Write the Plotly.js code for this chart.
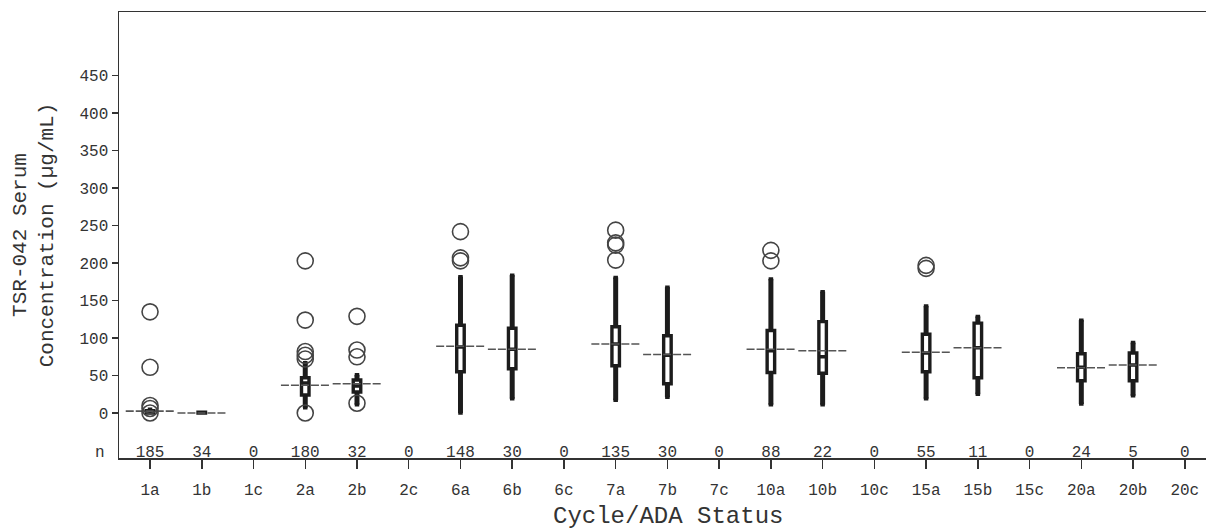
<!DOCTYPE html>
<html>
<head>
<meta charset="utf-8">
<script src="https://cdn.plot.ly/plotly-3.0.1.min.js"></script>
<style>html,body{margin:0;padding:0;background:#fff;}#chart{width:1206px;height:531px;}</style>
</head>
<body>
<div id="chart"></div>
<script>
// ---- data ----
const categories = ['1a','1b','1c','2a','2b','2c','6a','6b','6c','7a','7b','7c','10a','10b','10c','15a','15b','15c','20a','20b','20c'];
const nCounts = [185,34,0,180,32,0,148,30,0,135,30,0,88,22,0,55,11,0,24,5,0];

const boxCats  = ['1a','1b','2a','2b','6a','6b','7a','7b','10a','10b','15a','15b','20a','20b'];
const lowerVal = [0, 0, 7, 11, 0, 19, 17, 21, 11, 11, 19, 25, 12, 23];
const q1Val    = [0, 0, 24, 28, 55, 59, 63, 39, 54, 53, 55, 47, 43, 43];
const medVal   = [1, 0, 40, 36, 88, 85, 92, 77, 83, 75, 80, 87, 61, 64];
const q3Val    = [3, 1, 47, 44, 117, 113, 115, 103, 110, 122, 105, 120, 79, 80];
const upperVal = [5, 1, 67, 51, 182, 184, 181, 168, 179, 162, 143, 129, 124, 94];
const meanVal  = [2.5, 0, 37, 39, 89, 85, 92, 78, 85, 83, 81, 87, 60.5, 64];

const outlierCats = ['1a','1a','1a','1a','1a','2a','2a','2a','2a','2a','2a','2b','2b','2b','2b','6a','6a','6a','7a','7a','7a','7a','10a','10a','15a','15a'];
const outlierVals = [135, 61, 10, 6, 0, 203, 124, 82, 77, 72, 0, 129, 84, 75, 13, 242, 207, 203, 244, 227, 224, 204, 217, 203, 197, 193];

// ---- build traces ----
const pos = c => categories.indexOf(c);
const boxX = boxCats.map(pos);
const FONT = '"Liberation Mono", "DejaVu Sans Mono", monospace';

// thick whiskers
const wx = [], wy = [];
boxX.forEach((x, i) => {
  wx.push(x, x, null, x, x, null);
  wy.push(lowerVal[i], q1Val[i], null, q3Val[i], upperVal[i], null);
});

// mean lines
const mx = [], my = [];
boxX.forEach((x, i) => { mx.push(x - 0.47, x + 0.47, null); my.push(meanVal[i], meanVal[i], null); });

const traces = [
  {
    type: 'box', x: boxX, q1: q1Val, median: medVal, q3: q3Val,
    lowerfence: lowerVal, upperfence: upperVal,
    width: 0.145, whiskerwidth: 0.6, boxpoints: false,
    fillcolor: '#ffffff', line: {color: '#1c1c1c', width: 3.4},
    hoverinfo: 'skip', showlegend: false
  },
  {
    type: 'scatter', mode: 'lines', x: wx, y: wy,
    line: {color: '#1c1c1c', width: 5}, hoverinfo: 'skip', showlegend: false
  },
  {
    type: 'scatter', mode: 'lines', x: mx, y: my,
    line: {color: '#555555', width: 1.6, dash: '8px,2px'}, hoverinfo: 'skip', showlegend: false
  },
  {
    type: 'scatter', mode: 'markers', x: outlierCats.map(pos), y: outlierVals,
    marker: {symbol: 'circle-open', size: 16, color: '#444444', line: {width: 1.6, color: '#444444'}},
    hoverinfo: 'skip', showlegend: false
  },
  {
    type: 'scatter', mode: 'text', x: categories.map(pos), y: categories.map(() => -53),
    text: nCounts.map(String), textposition: 'middle center',
    textfont: {family: FONT, size: 16, color: '#333333'}, hoverinfo: 'skip', showlegend: false
  }
];

const layout = {
  width: 1206, height: 531,
  margin: {l: 119, r: 0, t: 12, b: 73},
  paper_bgcolor: '#ffffff', plot_bgcolor: '#ffffff',
  font: {family: FONT, color: '#333333'},
  showlegend: false,
  xaxis: {
    range: [-0.6, 20.41], tickvals: categories.map(pos), ticktext: categories,
    ticks: 'outside', ticklen: 9, tickwidth: 1.5, tickcolor: '#333333',
    ticklabelstandoff: 7,
    showline: true, mirror: true, linecolor: '#333333', linewidth: 1.5,
    showgrid: false, zeroline: false,
    tickfont: {family: FONT, size: 16, color: '#333333'}
  },
  yaxis: {
    range: [-60, 535], tickvals: [0,50,100,150,200,250,300,350,400,450],
    ticks: 'outside', ticklen: 6, tickwidth: 1.5, tickcolor: '#333333',
    showline: true, mirror: false, linecolor: '#333333', linewidth: 1.5,
    showgrid: false, zeroline: false,
    tickfont: {family: FONT, size: 16, color: '#333333'},
    title: {text: 'TSR-042 Serum<br>Concentration (µg/mL)', font: {family: FONT, size: 21, color: '#333333'}, standoff: 20}
  },
  annotations: [
    {xref: 'paper', yref: 'y', x: 0, y: -53, xshift: -19, text: 'n', showarrow: false,
     xanchor: 'center', yanchor: 'middle', font: {family: FONT, size: 16, color: '#333333'}},
    {xref: 'paper', yref: 'paper', x: 0.5, y: 0, xshift: 5, yshift: -58, text: 'Cycle/ADA Status', showarrow: false,
     xanchor: 'center', yanchor: 'middle', font: {family: FONT, size: 24, color: '#333333'}}
  ]
};

Plotly.newPlot('chart', traces, layout, {staticPlot: true, displayModeBar: false});
</script>
</body>
</html>
